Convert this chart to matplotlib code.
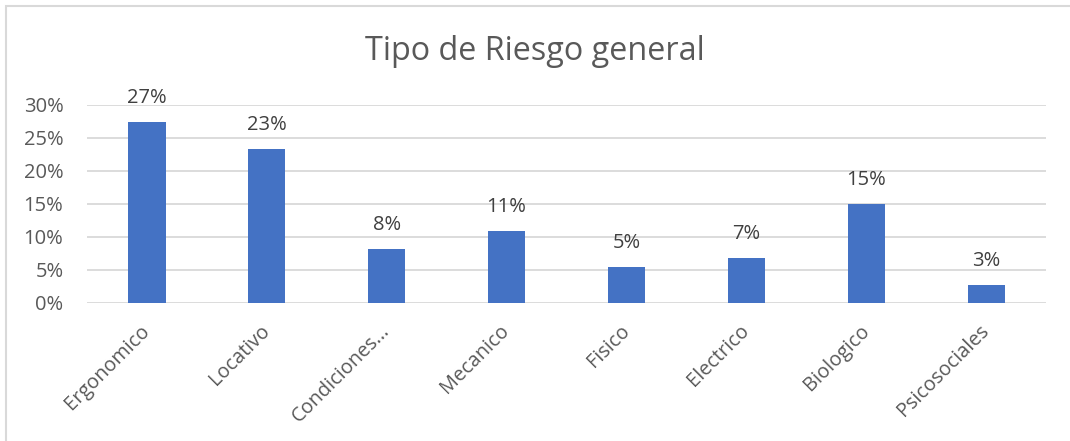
import matplotlib.pyplot as plt
from matplotlib.patches import Rectangle

plt.rcParams['font.family'] = ['Open Sans', 'DejaVu Sans']

categorias = ['Ergonomico', 'Locativo', 'Condiciones...', 'Mecanico', 'Fisico',
              'Electrico', 'Biologico', 'Psicosociales']
valores = [0.274, 0.233, 0.082, 0.109, 0.054, 0.068, 0.150, 0.027]
etiquetas = ['27%', '23%', '8%', '11%', '5%', '7%', '15%', '3%']
ticks_y = [0, 0.05, 0.10, 0.15, 0.20, 0.25, 0.30]

gris = '#595959'

fig = plt.figure(figsize=(10.7, 4.41), dpi=100)
ax = fig.add_axes([0.0813, 0.3136, 0.8963, 0.449])

# borde del area del grafico (estilo Excel)
fig.patches.append(Rectangle((5.5 / 1070, -0.1), 1.2, (441 - 5.5) / 441 + 0.1,
                             transform=fig.transFigure, fill=False,
                             edgecolor='#D9D9D9', linewidth=1.5))

x = range(len(categorias))
ax.bar(x, valores, width=0.31, color='#4472C4', zorder=3)

for xi, v, t in zip(x, valores, etiquetas):
    ax.annotate(t, (xi, v), xytext=(0, 10), textcoords='offset points',
                ha='center', va='bottom', fontsize=14.5, color='#404040')

ax.set_xlim(-0.5, len(categorias) - 0.5)
ax.set_ylim(0, 0.30)
ax.set_yticks(ticks_y)
ax.set_yticklabels([f'{int(round(t * 100))}%' for t in ticks_y])
ax.grid(axis='y', color='#D9D9D9', linewidth=1.3, zorder=0)
ax.tick_params(axis='y', length=0, labelsize=14.5, labelcolor=gris, pad=17)
ax.tick_params(axis='x', length=0, pad=18)
ax.set_xticks(list(x))
ax.set_xticklabels(categorias, rotation=45, ha='right', va='center',
                   rotation_mode='anchor', fontsize=14.3, color=gris)
for s in ax.spines.values():
    s.set_visible(False)

fig.text(0.5, 0.883, 'Tipo de Riesgo general', ha='center', va='center',
         fontsize=23.3, color=gris)

fig.savefig('out.png', dpi=100)
